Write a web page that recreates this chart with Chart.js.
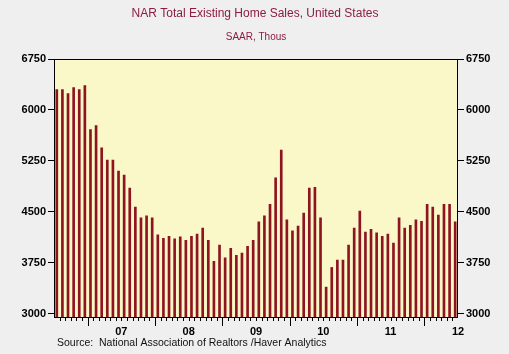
<!DOCTYPE html>
<html>
<head>
<meta charset="utf-8">
<script src="https://cdn.jsdelivr.net/npm/chart.js@4"></script>
<style>
  html, body { margin: 0; padding: 0; background: #efefef; }
  canvas { display: block; }
</style>
</head>
<body>
<canvas id="chart" width="509" height="354"></canvas>
<script>
// monthly, Jul 2006 .. Jun 2012
const startYear = 2006;
const startMonth = 7;
const months = [];
for (let i = 0; i < 72; i++) {
  const m = (startMonth - 1 + i) % 12;
  const y = startYear + Math.floor((startMonth - 1 + i) / 12);
  months.push(y + '-' + String(m + 1).padStart(2, '0'));
}

// existing home sales, SAAR thous
const sales = [
  6300, 6300, 6240, 6330, 6300, 6360,
  5710, 5770, 5440, 5260, 5260, 5100, 5040, 4850, 4570, 4410, 4440, 4410,
  4160, 4110, 4140, 4100, 4130, 4080, 4140, 4170, 4260, 4080, 3770, 4010,
  3820, 3960, 3860, 3890, 3990, 4080, 4350, 4440, 4610, 5000, 5410, 4380,
  4220, 4290, 4480, 4850, 4860, 4410, 3390, 3680, 3790, 3790, 4010, 4260,
  4510, 4200, 4240, 4190, 4140, 4170, 4040, 4410, 4260, 4300, 4380, 4360,
  4610, 4570, 4450, 4610, 4610, 4350
];

const yTicks = [3000, 3750, 4500, 5250, 6000, 6750];
const yearLabels = ['07', '08', '09', '10', '11', '12'];

const titleText = 'NAR Total Existing Home Sales, United States';
const subtitleText = 'SAAR, Thous';
const sourceText = 'Source:  National Association of Realtors /Haver Analytics';

const FONT = '"Liberation Sans", Arial, sans-serif';
const barColor = '#8e1420';
const titleColor = '#8c1d40';

// background, frame, titles and the month / year ticks on the time axis
const decor = {
  id: 'decor',
  beforeDraw(chart) {
    const { ctx, chartArea: a } = chart;
    ctx.save();
    ctx.fillStyle = '#efefef';
    ctx.fillRect(0, 0, chart.width, chart.height);
    ctx.fillStyle = '#faf7c9';
    ctx.fillRect(a.left, a.top, a.right - a.left, a.bottom - a.top);
    ctx.restore();
  },
  afterDraw(chart) {
    const { ctx, chartArea: a } = chart;
    const xs = chart.scales.x;
    ctx.save();
    ctx.strokeStyle = '#000';
    ctx.lineWidth = 1;
    ctx.strokeRect(a.left + 0.5, a.top + 0.5, a.right - a.left - 1, a.bottom - a.top);

    const step = xs.getPixelForValue(1) - xs.getPixelForValue(0);
    ctx.beginPath();
    for (let i = 1; i < months.length; i++) {
      const x = Math.round(xs.getPixelForValue(i) - step / 2) + 0.5;
      const isJan = months[i].endsWith('-01');
      ctx.moveTo(x, a.bottom);
      ctx.lineTo(x, a.bottom + (isJan ? 9 : 4));
    }
    ctx.stroke();

    ctx.fillStyle = '#000';
    ctx.font = 'bold 11px ' + FONT;
    ctx.textAlign = 'center';
    ctx.textBaseline = 'middle';
    yearLabels.forEach((lab, k) => {
      const idx = 12 * k + 12; // Jun/Jul boundary of each year
      const x = idx < months.length
        ? xs.getPixelForValue(idx) - step / 2
        : xs.getPixelForValue(months.length - 1) + step / 2;
      ctx.fillText(lab, x, 331.5);
    });

    ctx.fillStyle = titleColor;
    ctx.font = '12px ' + FONT;
    ctx.fillText(titleText, 255, 13.5);
    ctx.font = '10px ' + FONT;
    ctx.fillText(subtitleText, 256, 37.5);

    ctx.fillStyle = '#111';
    ctx.font = '10.5px ' + FONT;
    ctx.textAlign = 'left';
    ctx.fillText(sourceText, 57, 343);
    ctx.restore();
  }
};

const yCommon = {
  min: 2950,
  max: 6750,
  afterBuildTicks: s => { s.ticks = yTicks.map(v => ({ value: v })); },
  grid: { drawOnChartArea: false, tickLength: 6, color: '#000', tickColor: '#000' },
  border: { display: false },
  ticks: {
    color: '#000',
    font: { size: 11, weight: 'bold', family: FONT },
    padding: 2,
    callback: v => String(v)
  }
};

new Chart(document.getElementById('chart'), {
  type: 'bar',
  data: {
    labels: months,
    datasets: [{
      data: sales,
      backgroundColor: barColor,
      borderWidth: 0,
      barThickness: 2,
      yAxisID: 'y'
    }]
  },
  options: {
    responsive: false,
    animation: false,
    layout: { padding: { top: 59, bottom: 37, left: 0, right: 0 } },
    plugins: {
      legend: { display: false },
      tooltip: { enabled: false },
      title: { display: false }
    },
    scales: {
      x: { display: false, offset: true },
      y: Object.assign({}, yCommon, {
        position: 'left',
        afterFit: s => { s.width = 54; }
      }),
      y2: Object.assign({}, yCommon, {
        position: 'right',
        afterFit: s => { s.width = 51; }
      })
    }
  },
  plugins: [decor]
});
</script>
</body>
</html>
